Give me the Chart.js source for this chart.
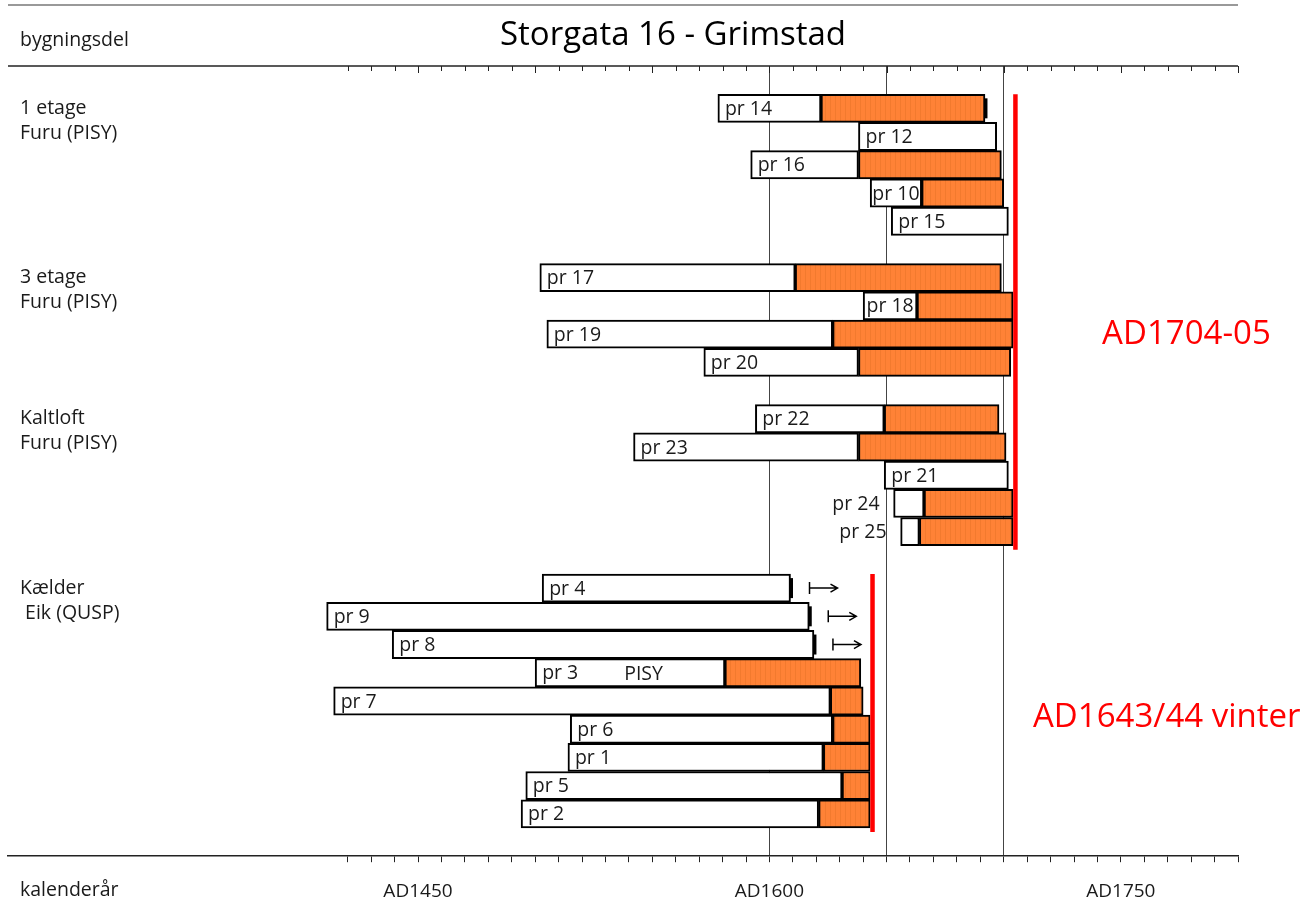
<!DOCTYPE html>
<html>
<head>
<meta charset="utf-8">
<script src="https://cdn.jsdelivr.net/npm/chart.js@4/dist/chart.umd.min.js"></script>
<style>
  html, body { margin: 0; padding: 0; background: #fff; }
  #wrap { width: 1311px; height: 908px; }
</style>
</head>
<body>
<div id="wrap"><canvas id="myChart"></canvas></div>
<script>
// en rad per prøve, null = tom rad mellom gruppene
const proever = ['pr 14', 'pr 12', 'pr 16', 'pr 10', 'pr 15', null,
                 'pr 17', 'pr 18', 'pr 19', 'pr 20', null,
                 'pr 22', 'pr 23', 'pr 21', 'pr 24', 'pr 25', null,
                 'pr 4', 'pr 9', 'pr 8', 'pr 3', 'pr 7', 'pr 6', 'pr 1', 'pr 5', 'pr 2'];
const startAar  = [1578, 1638, 1592, 1643, 1652, null, 1502, 1640, 1505, 1572, null,
                   1594, 1542, 1649, 1653, 1656, null, 1503, 1411, 1439, 1500, 1414, 1515, 1514, 1496, 1494];
const splintAar = [1622, null, 1638, 1665, null, null, 1611, 1663, 1627, 1638, null,
                   1649, 1638, null, 1666, 1664, null, null, null, null, 1581, 1626, 1627, 1623, 1631, 1621];
const sluttAar  = [1692, 1697, 1699, 1700, 1702, null, 1699, 1704, 1704, 1703, null,
                   1698, 1701, 1702, 1704, 1704, null, 1609, 1617, 1619, 1639, 1640, 1643, 1643, 1643, 1643];

const gruppeNavn  = ['1 etage', '3 etage', 'Kaltloft', 'Kælder'];
const treslag     = ['Furu (PISY)', 'Furu (PISY)', 'Furu (PISY)', ' Eik (QUSP)'];
const gruppeStart = [0, 6, 11, 17];

const fellingAar    = [1705, 1644];
const fellingTekst  = ['AD1704-05', 'AD1643/44 vinter'];
const fellingFra    = [0, 17];
const fellingTil    = [15, 25];
const tekstAar      = [1742, 1712.5];
const tekstRad      = [8, 21.6];

const pilProever = ['pr 4', 'pr 9', 'pr 8'];
const merknad = { proeve: 'pr 3', tekst: 'PISY', aar: 1538 };

const aarEtiketter = [1450, 1600, 1750];
const rutenett     = [1600, 1650, 1700];

const FONT = '"Open Sans", "Noto Sans", sans-serif';
const TXT = '#1a1a1a';

// en tom kategori øverst og nederst som luft mot aksene
const labels = [''].concat(proever.map(p => p || ''), ['']);
const kjerne = [null].concat(startAar.map((s, i) => s == null ? null : [s, splintAar[i] != null ? splintAar[i] : sluttAar[i]]), [null]);
const splint = [null].concat(splintAar.map((s, i) => s == null ? null : [s, sluttAar[i]]), [null]);

var ctx = document.getElementById('myChart').getContext('2d');

// oransje med svake loddrette striper
const mc = document.createElement('canvas');
mc.width = 5; mc.height = 10;
const mg = mc.getContext('2d');
mg.fillStyle = '#ff8236'; mg.fillRect(0, 0, 5, 10);
mg.fillStyle = '#f27a2e'; mg.fillRect(0, 0, 1, 10);
const oransje = ctx.createPattern(mc, 'repeat');

const dekor = {
  id: 'dekor',
  afterDatasetsDraw(chart) {
    const c = chart.ctx, a = chart.chartArea;
    const xs = chart.scales.x, ys = chart.scales.y;
    const meta = chart.getDatasetMeta(0);
    c.save();

    // linjer og ticks øverst
    c.strokeStyle = '#777'; c.lineWidth = 1.5;
    c.beginPath(); c.moveTo(a.left, 5); c.lineTo(a.right, 5); c.stroke();
    c.strokeStyle = '#222';
    c.beginPath(); c.moveTo(a.left, a.top); c.lineTo(a.right, a.top); c.stroke();
    c.lineWidth = 1;
    xs.ticks.forEach(t => {
      const px = Math.round(xs.getPixelForValue(t.value)) + 0.5;
      c.beginPath(); c.moveTo(px, a.top); c.lineTo(px, a.top + (t.value % 50 === 0 ? 7 : 5)); c.stroke();
    });

    // titler
    c.fillStyle = '#000';
    c.textBaseline = 'middle';
    c.textAlign = 'center';
    c.font = '33px ' + FONT;
    c.fillText('Storgata 16 - Grimstad', 673, 36);
    c.textAlign = 'left';
    c.font = '19.5px ' + FONT;
    c.fillStyle = TXT;
    c.fillText('bygningsdel', 20, 40);
    c.fillText('kalenderår', 20, 890);

    // gruppenavn
    gruppeStart.forEach((r, g) => {
      const y = ys.getPixelForValue(r + 1);
      c.fillText(gruppeNavn[g], 20, y);
      c.fillText(treslag[g], 20, y + 25);
    });

    // prøvenavn
    proever.forEach((p, i) => {
      if (!p) return;
      const el = meta.data[i + 1];
      const y = el.y;
      const venstre = xs.getPixelForValue(startAar[i]);
      const hoyre = xs.getPixelForValue(splintAar[i] != null ? splintAar[i] : sluttAar[i]);
      const w = c.measureText(p).width;
      if (hoyre - venstre < w + 4) {
        c.textAlign = 'right';
        c.fillText(p, venstre - 14, y + 1);
      } else {
        c.textAlign = 'left';
        c.fillText(p, venstre + Math.min(7, (hoyre - venstre - w) / 2), y + 1);
      }
      if (p === merknad.proeve) {
        c.textAlign = 'left';
        c.fillText(merknad.tekst, xs.getPixelForValue(merknad.aar), y + 2);
      }
    });

    // endemerker og piler
    c.strokeStyle = '#000';
    proever.forEach((p, i) => {
      if (!p) return;
      const y = meta.data[i + 1].y;
      const ex = xs.getPixelForValue(sluttAar[i]);
      if (pilProever.includes(p) || i === 0) {
        c.lineWidth = 3;
        c.beginPath(); c.moveTo(ex + 1, y - 10); c.lineTo(ex + 1, y + 10); c.stroke();
      }
      if (pilProever.includes(p)) {
        const x0 = ex + 19, x1 = x0 + 28;
        c.lineWidth = 1.5;
        c.beginPath();
        c.moveTo(x0, y - 6); c.lineTo(x0, y + 6);
        c.moveTo(x0, y); c.lineTo(x1, y);
        c.moveTo(x1 - 7, y - 4); c.lineTo(x1, y); c.lineTo(x1 - 7, y + 4);
        c.stroke();
      }
    });

    // fellingslinjer
    const band = ys.getPixelForValue(2) - ys.getPixelForValue(1);
    c.strokeStyle = '#ff0000'; c.lineWidth = 4.5;
    fellingAar.forEach((f, k) => {
      const px = xs.getPixelForValue(f);
      c.beginPath();
      c.moveTo(px, ys.getPixelForValue(fellingFra[k] + 1) - band / 2);
      c.lineTo(px, ys.getPixelForValue(fellingTil[k] + 1) + band / 2 + 4);
      c.stroke();
      c.fillStyle = '#ff0000';
      c.textAlign = 'left';
      c.font = '33px ' + FONT;
      c.fillText(fellingTekst[k], xs.getPixelForValue(tekstAar[k]), ys.getPixelForValue(tekstRad[k] + 1));
    });
    c.restore();
  }
};

const data = {
  labels: labels,
  datasets: [
    {
      label: 'kjerneved',
      data: kjerne,
      backgroundColor: '#ffffff',
      borderColor: '#000',
      borderWidth: 2,
      borderSkipped: false,
      grouped: false,
      barPercentage: 1,
      categoryPercentage: 1
    },
    {
      label: 'splintved',
      data: splint,
      backgroundColor: oransje,
      borderColor: '#000',
      borderWidth: 2,
      borderSkipped: false,
      grouped: false,
      barPercentage: 1,
      categoryPercentage: 1
    }
  ]
};

const config = {
  type: 'bar',
  data: data,
  options: {
    indexAxis: 'y',
    responsive: true,
    maintainAspectRatio: false,
    animation: false,
    layout: { padding: { left: 8, right: 73, top: 66, bottom: -13 } },
    plugins: {
      legend: { display: false },
      tooltip: { enabled: false },
      title: { display: false }
    },
    scales: {
      y: { display: false, offset: true },
      x: {
        type: 'linear',
        min: 1275,
        max: 1800,
        afterBuildTicks: axis => {
          const t = [];
          for (let v = 1420; v <= 1800; v += 10) t.push({ value: v });
          axis.ticks = t;
        },
        ticks: {
          autoSkip: false,
          maxRotation: 0,
          padding: 18,
          color: TXT,
          font: { family: FONT, size: 19 },
          callback: v => aarEtiketter.includes(v) ? 'AD' + v : ''
        },
        grid: {
          color: c => c.tick && rutenett.includes(c.tick.value) ? '#444' : 'rgba(0,0,0,0)',
          tickColor: '#222',
          tickLength: 6,
          lineWidth: 1
        },
        border: { color: '#222', width: 1.5 }
      }
    }
  },
  plugins: [dekor]
};

var myChart = new Chart(ctx, config);
</script>
</body>
</html>
